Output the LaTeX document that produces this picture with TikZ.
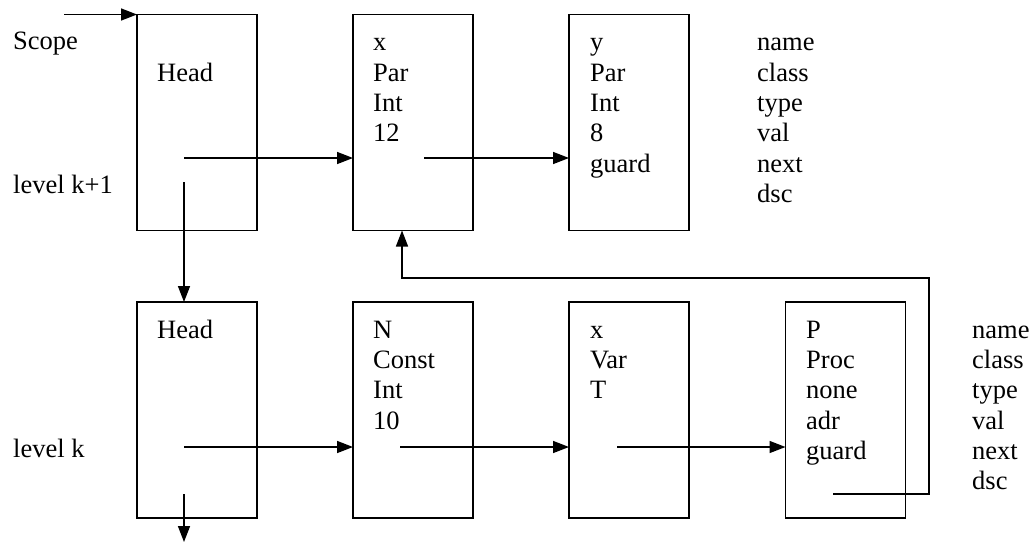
\documentclass[tikz,border=0pt]{standalone}
\usepackage{fontspec}
\setmainfont{Liberation Serif}
\usetikzlibrary{arrows.meta}
\begin{document}
\begin{tikzpicture}[x=1pt,y=-1pt,
  rec/.style={draw,line width=1.7pt,minimum width=120pt,minimum height=216pt,inner sep=0pt,outer sep=0pt},
  txt/.style={anchor=base west,inner sep=0pt,font=\fontsize{26.5}{30}\selectfont},
  link/.style={line width=1.5pt,-{Triangle[length=16pt,width=12pt]}},
  plain/.style={line width=1.5pt}]
\useasboundingbox (0,0) rectangle (1033,544);
% boxes
\node[rec] (h1) at (197,122.5) {};
\node[rec] (x1) at (413,122.5) {};
\node[rec] (y1) at (629,122.5) {};
\node[rec] (h2) at (197,410) {};
\node[rec] (n2) at (413,410) {};
\node[rec] (x2) at (629,410) {};
\node[rec] (p2) at (845.5,410) {};
% left labels
\node[txt] (scope) at (13,49.5) {Scope};
\node[txt] (lk1) at (13,193) {level k+1};
\node[txt] (lk) at (13,457) {level k};
% top row texts
\node[txt] (h1t) at (157,81) {Head};
\node[txt] (x1a) at (373,50.5) {x};
\node[txt] (x1b) at (373,81) {Par};
\node[txt] (x1c) at (373,111.3) {Int};
\node[txt] (x1d) at (373,141.6) {12};
\node[txt] (y1a) at (590,50.5) {y};
\node[txt] (y1b) at (590,81) {Par};
\node[txt] (y1c) at (590,111.3) {Int};
\node[txt] (y1d) at (590,141.6) {8};
\node[txt] (y1e) at (590,172) {guard};
\node[txt] (la1) at (757,50.5) {name};
\node[txt] (lb1) at (757,81) {class};
\node[txt] (lc1) at (757,111.3) {type};
\node[txt] (ld1) at (757,141.6) {val};
\node[txt] (le1) at (757,172) {next};
\node[txt] (lf1) at (757,202.3) {dsc};
% bottom row texts
\node[txt] (h2t) at (157,338) {Head};
\node[txt] (n2a) at (373,338) {N};
\node[txt] (n2b) at (373,368.3) {Const};
\node[txt] (n2c) at (373,398.6) {Int};
\node[txt] (n2d) at (373,429) {10};
\node[txt] (x2a) at (590,338) {x};
\node[txt] (x2b) at (590,368.3) {Var};
\node[txt] (x2c) at (590,398.6) {T};
\node[txt] (p2a) at (806,338) {P};
\node[txt] (p2b) at (806,368.3) {Proc};
\node[txt] (p2c) at (806,398.6) {none};
\node[txt] (p2d) at (806,429) {adr};
\node[txt] (p2e) at (806,459.3) {guard};
\node[txt] (la2) at (972,338) {name};
\node[txt] (lb2) at (972,368.3) {class};
\node[txt] (lc2) at (972,398.6) {type};
\node[txt] (ld2) at (972,429) {val};
\node[txt] (le2) at (972,459.3) {next};
\node[txt] (lf2) at (972,489.6) {dsc};
% connector coordinates
\coordinate (sc) at (64,14.5);
\coordinate (h1o) at (184,158);
\coordinate (h1d) at (184,182);
\coordinate (x1o) at (424,158);
\coordinate (h2o) at (184,447);
\coordinate (h2d) at (184,494);
\coordinate (h2e) at (184,542);
\coordinate (n2o) at (400,447);
\coordinate (x2o) at (617,447);
\coordinate (p2o) at (833,494);
\coordinate (r1) at (929,494);
\coordinate (r2) at (929,278);
\coordinate (r3) at (402,278);
% connectors
\draw[link] (sc) -- (h1.north west);
\draw[link] (h1o) -- (x1.west |- h1o);
\draw[link] (x1o) -- (y1.west |- x1o);
\draw[link] (h1d) -- (h1d |- h2.north);
\draw[link] (h2o) -- (n2.west |- h2o);
\draw[link] (n2o) -- (x2.west |- n2o);
\draw[link] (x2o) -- (p2.west |- x2o);
\draw[link] (h2d) -- (h2e);
\draw[link] (p2o) -- (r1) -- (r2) -- (r3) -- (r3 |- x1.south);
\end{tikzpicture}
\end{document}
